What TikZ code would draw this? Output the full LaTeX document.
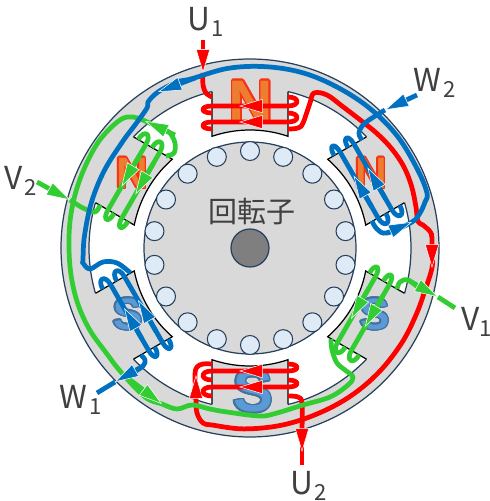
\documentclass[tikz,border=0pt]{standalone}
\usepackage{fontspec}
\usepackage[copies]{contour}
\setmainfont{Noto Sans CJK JP}
\newfontfamily\polefont{Liberation Sans}
\usetikzlibrary{arrows.meta}
\definecolor{ringcol}{RGB}{217,217,217}
\definecolor{linecol}{RGB}{38,64,92}
\definecolor{holecol}{RGB}{222,235,247}
\definecolor{shaftcol}{RGB}{127,127,127}
\definecolor{ucol}{RGB}{255,0,0}
\definecolor{vcol}{RGB}{50,205,50}
\definecolor{wcol}{RGB}{0,112,192}
\definecolor{ncol}{RGB}{237,125,49}
\definecolor{scol}{RGB}{91,155,213}
\contourlength{0.9pt}
\newcommand{\npole}[1]{\contour{red!60!ncol}{\color{ncol}#1}}
\newcommand{\spole}[1]{\contour{linecol!45!scol}{\color{scol}#1}}

\begin{document}
\begin{tikzpicture}[
  x=0.02cm, y=0.02cm,
  part/.style={draw=linecol, line width=0.7pt},
  wire/.style={line width=2.7pt, line join=round},
  tipwire/.style={draw=#1, wire, -{Triangle[length=13.5pt, width=8pt, fill=#1, color=white, line width=0.3pt]}},
  term/.style={font=\fontsize{18}{20}\selectfont, text=black!75, inner sep=0pt},
  poletext/.style={font=\polefont\bfseries\fontsize{#1}{#1}\selectfont, inner sep=0pt}
]
  \useasboundingbox (-250,248) rectangle (240,-253);

  % stator ring
  \fill[ringcol, even odd rule] (0,0) circle (189) (0,0) circle (161);
  \draw[part] (0,0) circle (189) (0,0) circle (161);

  % rotor
  \node[draw=linecol, line width=0.7pt, fill=ringcol, circle, minimum size=212*0.02cm, inner sep=0pt] (rotor) at (0,0) {};
  \foreach \a in {10,30,...,350} {
    \node[draw=linecol, line width=0.6pt, fill=holecol, circle, minimum size=19*0.02cm, inner sep=0pt] (hole\a) at (\a:97) {};
  }
  \node[draw=linecol, line width=0.7pt, fill=shaftcol, circle, minimum size=38*0.02cm, inner sep=0pt] (shaft) at (0,0) {};
  \node[font=\fontsize{16.5}{18}\selectfont, text=black!75, inner sep=0pt] (rotorlab) at (2,36) {回転子};

  % pole bodies
  \foreach \ang in {0,-60,60,120,-120,180} {
    \begin{scope}[rotate=\ang]
      \fill[ringcol] (-38,165) -- (-38,111.7) arc[start angle=108.8, end angle=71.2, radius=118] -- (38,165) -- cycle;
      \draw[black, line width=0.7pt] (-38,156.4) -- (-38,111.7) arc[start angle=108.8, end angle=71.2, radius=118] -- (38,156.4);
    \end{scope}
  }

  % pole letters
  \node[poletext=35] (ntop) at (1,145) {\npole{N}};
  \node[poletext=25] (nleft) at (-118,74) {\npole{N}};
  \node[poletext=25] (nright) at (121,74) {\npole{N}};
  \node[poletext=25] (sleft) at (-122,-67) {\spole{S}};
  \node[poletext=25] (sright) at (125,-67) {\spole{S}};
  \node[poletext=34] (sbot) at (3,-144) {\spole{S}};

  % U phase
  \coordinate (uin) at (-47,208);
  \coordinate (uout) at (52,-217);
  \draw[ucol, wire] plot[smooth, tension=0.6] coordinates {(-47,175) (-47,163) (-44,155) (-38,151)};
  \draw[ucol, wire] plot[smooth, tension=0.6] coordinates {(38,119) (48,120) (53,125) (60,145) (64,155) (77,153) (92,142) (49:169) (42:171) (35:173) (28:174) (21:173) (14:171) (9:170) (173,23) (181,15) (182,5) (182,-8) (182,-20) (-14:180) (-22:179) (-32:179) (-44:179) (-56:179) (-68:179) (-80:180) (-92:181) (-102:181) (-47,-175) (-53,-165) (-54,-150) (-55,-127) (-53,-119) (-47,-116) (-38,-116)};
  \draw[ucol, wire] plot[smooth, tension=0.6] coordinates {(38,-148) (48,-149) (52,-155) (52,-181)};
  \draw[ucol, wire] (52,-181) -- (uout);
  \draw[tipwire=ucol] (uin) -- (-47,175);
  \draw[tipwire=ucol] (182,15) -- (182,-20);
  \draw[tipwire=ucol] (-54,-160) -- (-54,-127);
  \draw[tipwire=ucol] (52,-170) -- (52,-204);

  % V phase
  \coordinate (vtwo) at (-213,66);
  \coordinate (vone) at (205,-60);
  \draw[vcol, wire] plot[smooth, tension=0.6] coordinates {(-180,48) (-167,40) (-155,36) (-150,43)};
  \draw[vcol, wire] plot[smooth, tension=0.6] coordinates {(-84,92) (-76,95) (-75,105) (-80,115) (-86,118) (-105,127) (-117,131) (-130,128) (144:185) (153:184) (162:183) (171:182) (180:181) (189:181) (198:181) (207:180) (216:178) (224:179) (-105,-149) (-88,-156) (-73,-161) (-58,-157) (-40,-161) (-23,-164) (10,-168) (27,-165) (53,-157) (80,-149) (98,-137) (103,-129) (95,-122) (87,-115) (82,-102) (81,-91)};
  \draw[vcol, wire] plot[smooth, tension=0.6] coordinates {(147,-41) (150,-34) (158,-32) (170,-41)};
  \draw[tipwire=vcol] (vtwo) -- (-180,48);
  \draw[tipwire=vcol] (-75,113) -- (-105,127);
  \draw[tipwire=vcol] (-125,-128) -- (-88,-156);
  \draw[tipwire=vcol] (158,-32) -- (188,-49);
  \draw[vcol, wire] (188,-49) -- (vone);

  % W phase
  \coordinate (wtwo) at (167,153);
  \coordinate (wone) at (-153,-145);
  \draw[wcol, wire] plot[smooth, tension=0.6] coordinates {(135,138) (115,125) (109,115) (112,108)};
  \draw[wcol, wire] plot[smooth, tension=0.6] coordinates {(122,27) (127,19) (137,15) (162,26) (170,35) (175,46) (177,55) (25:185) (37:185) (49:184) (61:183) (73:183) (85:182) (97:181) (109:179) (-73,166) (-92,156) (-102,146) (-103,140) (-115,123) (140:166) (152:165) (164:165) (176:166) (-167,-12) (-167,-15) (-160,-21) (-147,-14) (-133,-15) (-119.5,-25)};
  \draw[wcol, wire] plot[smooth, tension=0.6] coordinates {(-109,-107) (-105,-112) (-107,-118) (-119,-126)};
  \draw[tipwire=wcol] (wtwo) -- (135,138);
  \draw[tipwire=wcol] (137,15) -- (162,26);
  \draw[tipwire=wcol] (-55,170) -- (-92,156);
  \draw[tipwire=wcol] (-107,-118) -- (-135,-134);
  \draw[wcol, wire] (-135,-134) -- (wone);

  % coil turns in front of the poles
  \foreach \ang/\wirecol/\dirs/\rad in {0/ucol/1/126, 180/ucol/-1/123, 120/wcol/-1/123, -60/wcol/1/126, 60/vcol/1/126, -120/vcol/-1/123} {
    \begin{scope}[rotate=\ang]
      \draw[\wirecol, wire] (38,\rad+25) .. controls +(12,0) and +(12,0) .. (38,\rad+16) -- (-38,\rad+16) .. controls +(-12,0) and +(-12,0) .. (-38,\rad+9);
      \draw[\wirecol, wire] (38,\rad+9) .. controls +(12,0) and +(12,0) .. (38,\rad) -- (-38,\rad) .. controls +(-12,0) and +(-12,0) .. (-38,\rad-7);
      \draw[tipwire=\wirecol] (\dirs*25,\rad+16) -- (-\dirs*11,\rad+16);
      \draw[tipwire=\wirecol] (\dirs*25,\rad) -- (-\dirs*11,\rad);
    \end{scope}
  }

  % terminals
  \node[term] (uonelab) at (-44,226) {U\kern1pt\textsubscript{1}};
  \node[term] (utwolab) at (59,-238) {U\kern1pt\textsubscript{2}};
  \node[term] (vtwolab) at (-229,67) {V\kern1pt\textsubscript{2}};
  \node[term] (vonelab) at (227,-74) {V\textsubscript{1}};
  \node[term] (wtwolab) at (185,165) {W\kern1pt\textsubscript{2}};
  \node[term] (wonelab) at (-169,-152) {W\kern1pt\textsubscript{1}};
\end{tikzpicture}
\end{document}
